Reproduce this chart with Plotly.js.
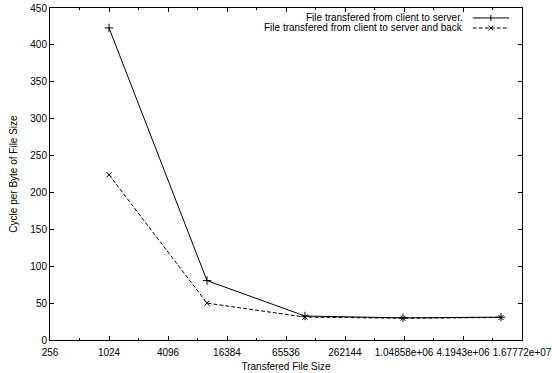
<!DOCTYPE html>
<html><head><meta charset="utf-8">
<script src="https://cdn.plot.ly/plotly-3.0.1.min.js"></script>
<style>html,body{margin:0;padding:0;background:#fff}#c{width:552px;height:373px}</style>
</head><body><div id="c"></div>
<script>
const fileSizes = [1024, 10240, 102400, 1024000, 10240000];
const oneWay = [423, 80.5, 32.5, 30, 31];
const roundTrip = [224, 50, 31, 29.5, 30.5];
const xTickVals = [256, 1024, 4096, 16384, 65536, 262144, 1048576, 4194304, 16777216];
const xTickText = ["256", "1024", "4096", "16384", "65536", "262144", "1.04858e+06", "4.1943e+06", "1.67772e+07"];
const xMinorVals = [512, 2048, 8192, 32768, 131072, 524288, 2097152, 8388608];
const yTickVals = [0, 50, 100, 150, 200, 250, 300, 350, 400, 450];
const seriesNames = ["File transfered from client to server.", "File transfered from client to server and back"];

const font = {family: "Liberation Sans, Arial, sans-serif", size: 10, color: "#000"};

const traces = [
  {x: fileSizes, y: oneWay, name: seriesNames[0], mode: "lines+markers", type: "scatter",
   line: {color: "#000", width: 1}, marker: {symbol: "cross-thin", size: 6, color: "#000", line: {color: "#000", width: 1}}},
  {x: fileSizes, y: roundTrip, name: seriesNames[1], mode: "lines+markers", type: "scatter",
   line: {color: "#000", width: 1, dash: "4px,2px"}, marker: {symbol: "x-thin", size: 5, color: "#000", line: {color: "#000", width: 1}}}
];

// legend (gnuplot style: text right, sample on the right)
const lx0 = 0.8956, lx1 = 0.9725, lmx = 0.934, ltx = 0.879;
const ly = [0.970, 0.9398];
const mx = 0.0064, my = 0.009;
const shapes = [
  {type: "line", xref: "paper", yref: "paper", x0: lx0, x1: lx1, y0: ly[0], y1: ly[0], line: {color: "#000", width: 1}},
  {type: "line", xref: "paper", yref: "paper", x0: lmx, x1: lmx, y0: ly[0] - my, y1: ly[0] + my, line: {color: "#000", width: 1}},
  {type: "line", xref: "paper", yref: "paper", x0: lx0, x1: lx1, y0: ly[1], y1: ly[1], line: {color: "#000", width: 1, dash: "4px,2px"}},
  {type: "line", xref: "paper", yref: "paper", x0: lmx - mx*0.8, x1: lmx + mx*0.8, y0: ly[1] - my*0.8, y1: ly[1] + my*0.8, line: {color: "#000", width: 1}},
  {type: "line", xref: "paper", yref: "paper", x0: lmx - mx*0.8, x1: lmx + mx*0.8, y0: ly[1] + my*0.8, y1: ly[1] - my*0.8, line: {color: "#000", width: 1}}
];
const annotations = seriesNames.map((n, i) => ({
  text: n, xref: "paper", yref: "paper", x: ltx, y: ly[i], xanchor: "right", yanchor: "middle",
  showarrow: false, font: font
}));

const layout = {
  width: 552, height: 373,
  margin: {l: 50, r: 30, t: 8, b: 33},
  paper_bgcolor: "#fff", plot_bgcolor: "#fff",
  font: font,
  showlegend: false,
  xaxis: {
    type: "log", range: [Math.log10(256), Math.log10(16777216)],
    tickmode: "array", tickvals: xTickVals, ticktext: xTickText,
    ticks: "inside", ticklen: 4, tickcolor: "#000", tickwidth: 1,
    minor: {tickmode: "array", tickvals: xMinorVals, ticks: "inside", ticklen: 2, tickcolor: "#000", tickwidth: 1, showgrid: false},
    showline: true, linecolor: "#000", linewidth: 1, mirror: "allticks",
    showgrid: false, zeroline: false, ticklabelstandoff: 3,
    title: {text: "Transfered File Size", font: font, standoff: 5}
  },
  yaxis: {
    range: [0, 450], tickmode: "array", tickvals: yTickVals,
    ticks: "inside", ticklen: 4, tickcolor: "#000", tickwidth: 1,
    showline: true, linecolor: "#000", linewidth: 1, mirror: "allticks",
    showgrid: false, zeroline: false,
    title: {text: "Cycle per Byte of File Size", font: font, standoff: 10}
  },
  shapes: shapes,
  annotations: annotations
};

Plotly.newPlot("c", traces, layout, {displayModeBar: false, staticPlot: true});
</script></body></html>
